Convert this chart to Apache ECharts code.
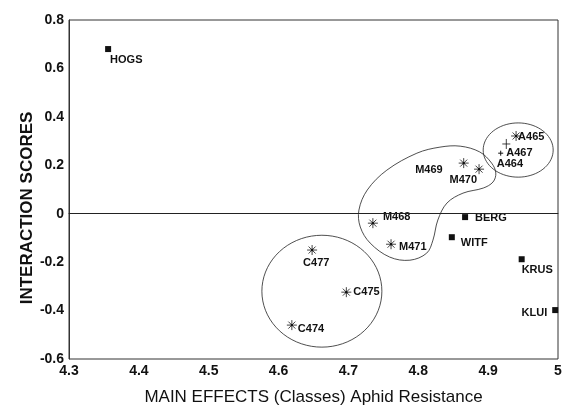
<!DOCTYPE html>
<html>
<head>
<meta charset="utf-8">
<script src="https://cdn.jsdelivr.net/npm/echarts@6/dist/echarts.min.js"></script>
<style>
  html, body { margin: 0; padding: 0; background: #fff; }
  #main { width: 563px; height: 407px; }
</style>
</head>
<body>
<div id="main"></div>
<script>
// genotypes (filled squares)
var genotypeNames = ['HOGS', 'BERG', 'WITF', 'KRUS', 'KLUI'];
var genotypeMain = [4.356, 4.867, 4.848, 4.948, 4.996];
var genotypeInter = [0.680, -0.014, -0.097, -0.188, -0.398];

// classes (asterisks / crosses)
var classNames = ['A465', 'A467', 'A464', 'M469', 'M470', 'M468', 'M471', 'C477', 'C475', 'C474'];
var classMain = [4.940, 4.926, 4.918, 4.865, 4.887, 4.735, 4.761, 4.648, 4.697, 4.619];
var classInter = [0.321, 0.288, 0.250, 0.209, 0.184, -0.039, -0.126, -0.150, -0.324, -0.460];

// group outlines, in data units
var ellipseCx = [4.662, 4.943];
var ellipseCy = [-0.320, 0.263];
var ellipseRx = [0.0859, 0.0501];
var ellipseRy = [0.231, 0.112];
var blobMain = [4.831, 4.798, 4.755, 4.727, 4.715, 4.717, 4.731, 4.759, 4.788, 4.812,
                4.821, 4.828, 4.841, 4.864, 4.893, 4.907, 4.911, 4.905, 4.888, 4.860];
var blobInter = [0.275, 0.250, 0.180, 0.098, 0.015, -0.055, -0.121, -0.179, -0.192, -0.163,
                 -0.109, -0.026, 0.044, 0.085, 0.106, 0.131, 0.168, 0.209, 0.255, 0.279];

// marker shape per class
var classMarker = { A465: 'star', A467: 'plus', A464: 'dot' };

// label placement: [dx, dy, align]
var labelPos = {
  HOGS: [2, 11, 'left'], BERG: [10, 1, 'left'], WITF: [9, 6, 'left'],
  KRUS: [0, 11, 'left'], KLUI: [-8, 3, 'right'],
  A465: [2, 1, 'left'], A467: [0, 9, 'left'], A464: [-4, 11, 'left'],
  M469: [-21, 7, 'right'], M470: [-2, 11, 'right'], M468: [10, -6, 'left'],
  M471: [8, 3, 'left'], C477: [-9, 13, 'left'], C475: [7, 0, 'left'], C474: [6, 4, 'left']
};

var labelFont = 'bold 11px "Liberation Sans", Arial, sans-serif';
var ink = '#111';

function labelEl(name, p) {
  var lp = labelPos[name];
  return {
    type: 'text',
    style: {
      text: name, x: p[0] + lp[0], y: p[1] + lp[1],
      align: lp[2], verticalAlign: 'middle',
      font: labelFont, fill: ink
    }
  };
}

function line(x1, y1, x2, y2, w) {
  return { type: 'line', shape: { x1: x1, y1: y1, x2: x2, y2: y2 },
           style: { stroke: ink, lineWidth: w || 0.8 } };
}

var myChart = echarts.init(document.getElementById('main'));

var option = {
  backgroundColor: '#fff',
  animation: false,
  grid: {
    left: 69, right: 5, top: 20, bottom: 48,
    containLabel: false, outerBoundsMode: 'none',
    show: true, borderColor: '#333', borderWidth: 1
  },
  graphic: [{
    type: 'text',
    x: 27, y: 208,
    rotation: Math.PI / 2,
    style: {
      text: 'INTERACTION SCORES',
      align: 'center', verticalAlign: 'middle',
      font: 'bold 17px "Liberation Sans", Arial, sans-serif',
      fill: ink
    }
  }],
  xAxis: {
    type: 'value', min: 4.3, max: 5, interval: 0.1,
    name: 'MAIN EFFECTS (Classes) Aphid Resistance',
    nameLocation: 'middle', nameGap: 30,
    nameTextStyle: { fontFamily: 'Liberation Sans', fontSize: 17, color: ink },
    axisLine: { show: true, lineStyle: { color: '#333', width: 1 } },
    axisTick: { show: false },
    splitLine: { show: false },
    axisLabel: {
      fontFamily: 'Liberation Sans', fontWeight: 'bold', fontSize: 14, color: ink, margin: 5,
      formatter: function (v) { return String(Math.round(v * 10) / 10); }
    }
  },
  yAxis: {
    type: 'value', min: -0.6, max: 0.8, interval: 0.2,
    axisLine: { show: true, lineStyle: { color: '#333', width: 1 } },
    axisTick: { show: false },
    splitLine: { show: false },
    axisLabel: {
      fontFamily: 'Liberation Sans', fontWeight: 'bold', fontSize: 14, color: ink, margin: 5,
      formatter: function (v) { return String(Math.round(v * 10) / 10); }
    }
  },
  series: [
    {
      // ellipses + blob outline
      type: 'custom',
      silent: true,
      data: [[0], [1], [2]],
      renderItem: function (params, api) {
        var i = params.dataIndex;
        var pts = [];
        if (i < 2) {
          for (var k = 0; k < 72; k++) {
            var t = k / 72 * Math.PI * 2;
            pts.push(api.coord([ellipseCx[i] + ellipseRx[i] * Math.cos(t),
                                ellipseCy[i] + ellipseRy[i] * Math.sin(t)]));
          }
        } else {
          for (var j = 0; j < blobMain.length; j++) {
            pts.push(api.coord([blobMain[j], blobInter[j]]));
          }
        }
        return {
          type: 'polygon',
          shape: { points: pts, smooth: i < 2 ? 0 : 0.35 },
          style: { fill: 'none', stroke: '#222', lineWidth: 0.8 }
        };
      },
      markLine: {
        silent: true, symbol: 'none',
        label: { show: false },
        lineStyle: { color: '#222', width: 1, type: 'solid' },
        data: [{ yAxis: 0 }]
      }
    },
    {
      // genotypes
      type: 'custom',
      data: genotypeMain.map(function (x, i) { return [x, genotypeInter[i]]; }),
      renderItem: function (params, api) {
        var p = api.coord([api.value(0), api.value(1)]);
        var name = genotypeNames[params.dataIndex];
        return {
          type: 'group',
          children: [
            { type: 'rect', shape: { x: p[0] - 3, y: p[1] - 3, width: 6, height: 6 },
              style: { fill: ink } },
            labelEl(name, p)
          ]
        };
      }
    },
    {
      // classes
      type: 'custom',
      data: classMain.map(function (x, i) { return [x, classInter[i]]; }),
      renderItem: function (params, api) {
        var p = api.coord([api.value(0), api.value(1)]);
        var name = classNames[params.dataIndex];
        var kind = classMarker[name] || 'star';
        var x = p[0], y = p[1];
        var kids = [];
        if (kind === 'star') {
          var r = 5, d = 3.5;
          kids.push(line(x - r, y, x + r, y));
          kids.push(line(x, y - r, x, y + r));
          kids.push(line(x - d, y - d, x + d, y + d));
          kids.push(line(x - d, y + d, x + d, y - d));
          kids.push({ type: 'circle', shape: { cx: x, cy: y, r: 1.2 }, style: { fill: ink } });
        } else if (kind === 'plus') {
          kids.push(line(x - 4, y, x + 4, y));
          kids.push(line(x, y - 5, x, y + 5));
        } else {
          kids.push(line(x - 2.5, y, x + 2.5, y, 1));
          kids.push(line(x, y - 2.5, x, y + 2.5, 1));
        }
        kids.push(labelEl(name, p));
        return { type: 'group', children: kids };
      }
    }
  ]
};
myChart.setOption(option);
</script>
</body>
</html>
